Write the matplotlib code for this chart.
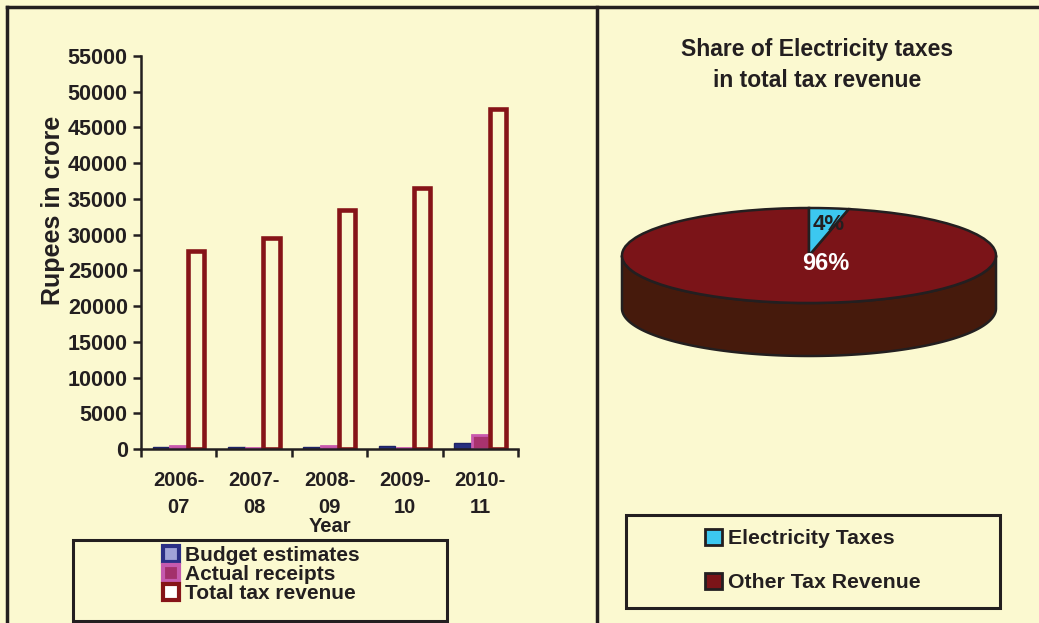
import numpy as np
import matplotlib
matplotlib.use("Agg")
import matplotlib.pyplot as plt
from matplotlib.patches import Wedge, Polygon, Rectangle, Patch
from matplotlib.lines import Line2D
from matplotlib.transforms import Affine2D

# data
years = ["2006-\n07", "2007-\n08", "2008-\n09", "2009-\n10", "2010-\n11"]
budget = [250, 250, 250, 450, 900]
receipts = [350, 100, 350, 100, 1900]
total = [27640, 29460, 33500, 36460, 47650]
series_names = ["Budget estimates", "Actual receipts", "Total tax revenue"]
pie_labels = ["Electricity Taxes", "Other Tax Revenue"]
pie_share = [4, 96]

BG = "#FBF9D0"
INK = "#231F20"
W, H = 1039, 623
plt.rcParams["font.family"] = ["Liberation Sans", "DejaVu Sans"]
plt.rcParams["font.weight"] = "bold"

fig = plt.figure(figsize=(W / 100, H / 100), dpi=100, facecolor=BG)

def fx(px):
    return px / W

def fy(py):
    return 1 - py / H

# ---- left: bar chart
ax = fig.add_axes([fx(141), fy(449), fx(518 - 141), (449 - 56) / H])
ax.set_facecolor("none")
x = np.arange(len(years))
bw = 0.22
ax.bar(x - 0.235, budget, bw, color="#27307F", edgecolor="#1E2466", lw=1)
ax.bar(x, receipts, bw, color="#A8336E", edgecolor="#C95AAE", lw=2)
ax.bar(x + 0.23, total, 0.215, facecolor=BG, edgecolor="#861418", lw=3.3)
ax.set_xlim(-0.5, 4.5)
ax.set_ylim(0, 55000)
ax.set_yticks(np.arange(0, 55001, 5000))
ax.set_yticklabels([str(v) for v in range(0, 55001, 5000)], fontsize=15.5, fontweight="bold", color=INK)
ax.set_xticks(np.arange(-0.5, 4.6, 1))
ax.set_xticklabels([])
ax.set_xticks(x, minor=True)
ax.set_xticklabels(years, minor=True, fontsize=14.5, fontweight="bold", color=INK, linespacing=1.5)
ax.tick_params(axis="x", which="minor", length=0, pad=16)
ax.tick_params(axis="both", which="major", length=6, width=1.8, color=INK, direction="out")
for s in ["top", "right"]:
    ax.spines[s].set_visible(False)
for s in ["left", "bottom"]:
    ax.spines[s].set_linewidth(1.8)
    ax.spines[s].set_color(INK)
ax.set_ylabel("Rupees in crore", fontsize=18, fontweight="bold", color=INK)
ax.yaxis.set_label_coords(-(141 - 65) / (518 - 141), (449 - 210) / (449 - 56))
fig.text(fx(330), fy(526), "Year", fontsize=14.5, fontweight="bold", color=INK, ha="center", va="center")

# ---- overlay in pixel coordinates (y up)
ov = fig.add_axes([0, 0, 1, 1])
ov.set_xlim(0, W)
ov.set_ylim(0, H)
ov.axis("off")
ov.patch.set_alpha(0)

# frame lines
ov.plot([7, W], [H - 7, H - 7], color=INK, lw=2.5)
ov.plot([7, 7], [0, H - 7], color=INK, lw=2.5)
ov.plot([597, 597], [0, H - 7], color=INK, lw=2.5)

# legend boxes
ov.add_patch(Rectangle((73, H - 621), 447 - 73, 621 - 540, fill=False, ec=INK, lw=2.2))
ov.add_patch(Rectangle((626, H - 608), 1000 - 626, 608 - 515, fill=False, ec=INK, lw=2.2))

# ---- right: 3D-looking pie
cx, cy = 809, H - 255.5
rx, ry, depth = 187, 47.5, 53
t = np.linspace(np.pi, 2 * np.pi, 200)
side = np.concatenate([
    np.column_stack([cx + rx * np.cos(t), cy + ry * np.sin(t)]),
    np.column_stack([cx + rx * np.cos(t[::-1]), cy - depth + ry * np.sin(t[::-1])]),
])
ov.add_patch(Polygon(side, closed=True, fc="#461A0C", ec=INK, lw=1.8))
tr = Affine2D().scale(rx, ry).translate(cx, cy) + ov.transData
ang = 360 * np.array(pie_share) / sum(pie_share)
start = 90
elec_t1 = start - ang[0] * 0.85  # perspective squeeze of the slice seen at the back
ov.add_patch(Wedge((0, 0), 1, start, elec_t1 + 360, transform=tr, fc="#7B1418", ec=INK, lw=1.8))
ov.add_patch(Wedge((0, 0), 1, elec_t1, start, transform=tr, fc="#3CC8F0", ec=INK, lw=1.8))
fig.text(fx(829), fy(224), f"{pie_share[0]}%", fontsize=16, fontweight="bold", color=INK, ha="center", va="center")
fig.text(fx(826), fy(263), f"{pie_share[1]}%", fontsize=17, fontweight="bold", color="white", ha="center", va="center")

fig.text(fx(817), fy(65), "Share of Electricity taxes\nin total tax revenue", fontsize=16.5, fontweight="bold",
         color=INK, ha="center", va="center", linespacing=1.4)

# legends
h_left = [
    Line2D([], [], ls="none", marker="s", ms=11, mfc="#A0A3D8", mec="#2B2F86", mew=3),
    Line2D([], [], ls="none", marker="s", ms=11, mfc="#A3306B", mec="#C55AAE", mew=3),
    Line2D([], [], ls="none", marker="s", ms=11, mfc="white", mec="#861418", mew=3),
]
fig.legend(h_left, series_names, loc="upper left", bbox_to_anchor=(fx(152), fy(536)), frameon=False,
           prop={"size": 15, "weight": "bold"}, handlelength=0.8, handletextpad=0.3, labelspacing=0.0,
           borderpad=0, labelcolor=INK)
h_right = [
    Patch(fc="#3CC8F0", ec=INK, lw=2),
    Patch(fc="#7B1418", ec=INK, lw=2),
]
fig.legend(h_right, pie_labels, loc="upper left", bbox_to_anchor=(fx(694), fy(518)), frameon=False,
           prop={"size": 15.3, "weight": "bold"}, handlelength=0.8, handleheight=0.8, handletextpad=0.3,
           labelspacing=1.15, borderpad=0, labelcolor=INK)

fig.savefig("out.png", dpi=100, facecolor=BG)
